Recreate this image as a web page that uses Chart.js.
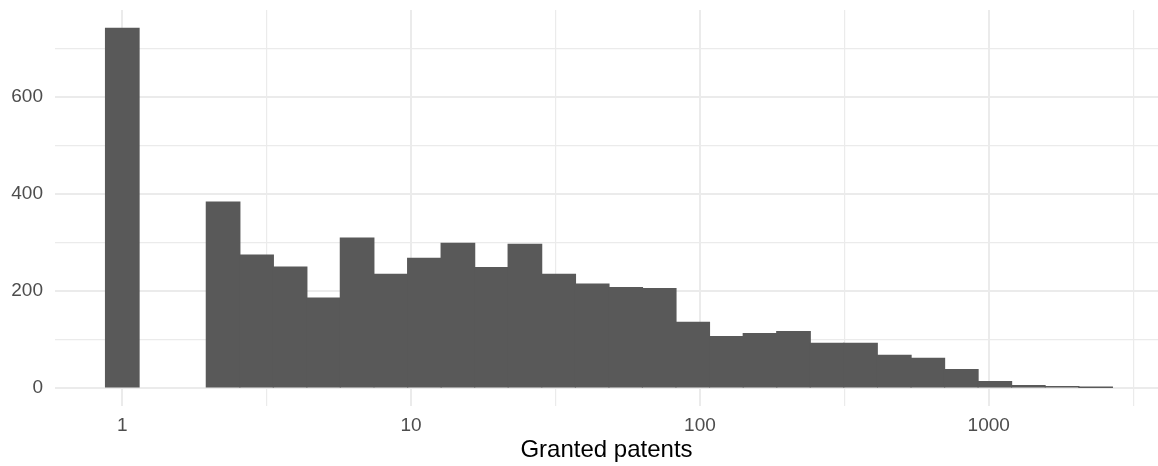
<!DOCTYPE html>
<html>
<head>
<meta charset="utf-8">
<script src="https://cdn.jsdelivr.net/npm/chart.js@4/dist/chart.umd.min.js"></script>
<style>
  html, body { margin: 0; padding: 0; background: #fff; }
  #wrap { width: 1158px; height: 466px; }
</style>
</head>
<body>
<div id="wrap"><canvas id="chart" width="1158" height="466"></canvas></div>
<script>
// histogram bins, centres in log10(granted patents)
var binCenters = [0, 0.116, 0.232, 0.349, 0.465, 0.581, 0.697, 0.813, 0.930, 1.046,
  1.162, 1.278, 1.394, 1.511, 1.627, 1.743, 1.859, 1.975, 2.092, 2.208,
  2.324, 2.440, 2.556, 2.673, 2.789, 2.905, 3.021, 3.137, 3.254, 3.370];
var counts = [741, 0, 0, 383, 274, 249, 185, 309, 234, 267,
  298, 248, 296, 234, 214, 207, 205, 135, 106, 112,
  116, 92, 92, 67, 61, 38, 13, 5, 3, 1];

var xTicks = [0, 0.5, 1, 1.5, 2, 2.5, 3, 3.5];   // integers labelled, halves minor
var yTicks = [0, 100, 200, 300, 400, 500, 600, 700];
var xTitle = 'Granted patents';

var barColor = '#595959';
var gridColor = '#EBEBEB';
var tickColor = '#4D4D4D';
var font = 'Liberation Sans, Arial, Helvetica, sans-serif';

function isMajorX(v) { return Math.abs(v - Math.round(v)) < 1e-9; }
function isMajorY(v) { return v % 200 === 0; }

new Chart(document.getElementById('chart').getContext('2d'), {
  type: 'bar',
  data: {
    datasets: [{
      data: binCenters.map(function(x, i) { return { x: x, y: counts[i] }; }),
      backgroundColor: function(c) { return c.raw && c.raw.y > 0 ? barColor : 'rgba(0,0,0,0)'; },
      borderWidth: 0,
      inflateAmount: 0.6,
      barPercentage: 1,
      categoryPercentage: 1
    }]
  },
  options: {
    responsive: false,
    devicePixelRatio: 1,
    animation: false,
    layout: { padding: { top: 10, left: 0, right: 0, bottom: 0 } },
    plugins: { legend: { display: false }, tooltip: { enabled: false } },
    scales: {
      x: {
        type: 'linear',
        offset: false,
        min: -0.233, max: 3.586,
        afterBuildTicks: function(axis) { axis.ticks = xTicks.map(function(v) { return { value: v }; }); },
        afterFit: function(axis) { axis.height = 60; axis.paddingLeft = 0; axis.paddingRight = 0; },
        ticks: {
          autoSkip: false, maxRotation: 0, padding: 8,
          color: tickColor, font: { family: font, size: 19 },
          callback: function(v) { return isMajorX(v) ? String(Math.round(Math.pow(10, v))) : ''; }
        },
        grid: {
          offset: false,
          drawTicks: false,
          color: gridColor,
          lineWidth: function(c) { return c.tick && isMajorX(c.tick.value) ? 2 : 1.2; }
        },
        border: { display: false },
        title: {
          display: true, text: xTitle, color: '#000',
          font: { family: font, size: 24, lineHeight: 1.2 },
          padding: { top: 0, bottom: 1 }
        }
      },
      y: {
        type: 'linear',
        min: -37.1, max: 778.7,
        afterBuildTicks: function(axis) { axis.ticks = yTicks.map(function(v) { return { value: v }; }); },
        afterFit: function(axis) { axis.width = 55; axis.paddingTop = 0; axis.paddingBottom = 0; },
        ticks: {
          padding: 12,
          color: tickColor, font: { family: font, size: 19 },
          callback: function(v) { return isMajorY(v) ? String(v) : ''; }
        },
        grid: {
          drawTicks: false,
          color: gridColor,
          lineWidth: function(c) { return c.tick && isMajorY(c.tick.value) ? 2 : 1.2; }
        },
        border: { display: false }
      }
    }
  }
});
</script>
</body>
</html>
